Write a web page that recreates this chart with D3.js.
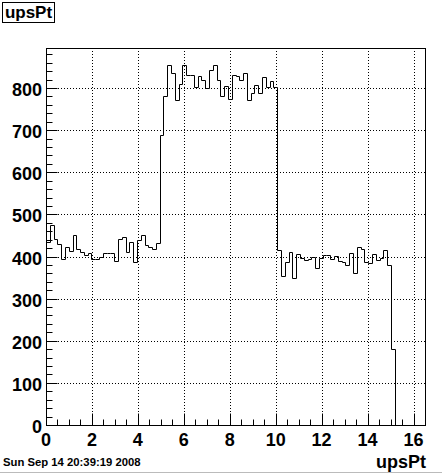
<!DOCTYPE html>
<html>
<head>
<meta charset="utf-8">
<script src="https://cdn.jsdelivr.net/npm/d3@7"></script>
<style>
body { margin: 0; background: #fff; }
svg text { font-family: "Liberation Sans", Arial, sans-serif; font-weight: bold; }
</style>
</head>
<body>
<div id="main"></div>
<script>
// histogram: 100 bins from 0 to 16.5
var xLow = 0, xHigh = 16.5;
var counts = [
	435, 474, 441, 429, 393, 423, 413, 451, 419, 411,
	404, 408, 393, 393, 400, 408, 409, 408, 390, 441,
	447, 411, 434, 388, 440, 450, 427, 423, 418, 432,
	688, 780, 854, 836, 771, 810, 854, 830, 830, 802,
	828, 820, 800, 842, 854, 820, 780, 804, 775, 832,
	828, 820, 836, 771, 787, 808, 788, 826, 802, 817,
	802, 415, 354, 386, 410, 350, 407, 396, 392, 393,
	398, 372, 396, 404, 404, 394, 401, 389, 386, 381,
	409, 360, 422, 419, 388, 384, 406, 392, 396, 416,
	380, 180, 0, 0, 0, 0, 0, 0, 0, 0
];
var xTicks = [0, 2, 4, 6, 8, 10, 12, 14, 16];
var yTicks = [0, 100, 200, 300, 400, 500, 600, 700, 800];
var yMax = 895;
var histTitle = "upsPt";
var dateText = "Sun Sep 14 20:39:19 2008";

//Width and height
var w = 442,
	h = 473;

var padL = 46, padR = 425, padT = 48, padB = 425;

var x = d3.scaleLinear().domain([xLow, xHigh]).range([padL, padR]);
var y = d3.scaleLinear().domain([0, yMax]).range([padB, padT]);

var svg = d3.select("#main")
	.append("svg")
	.attr("width", w)
	.attr("height", h);

svg.append("rect").attr("width", w).attr("height", h).attr("fill", "#fff");

// grid
svg.append("g").selectAll("line")
	.data(xTicks.filter(function(d) { return d > 0; }))
	.enter().append("line")
	.attr("x1", function(d) { return Math.round(x(d)) + 0.5; })
	.attr("x2", function(d) { return Math.round(x(d)) + 0.5; })
	.attr("y1", padT).attr("y2", padB)
	.attr("stroke", "#000").attr("stroke-width", 1)
	.attr("stroke-dasharray", "1,2");

svg.append("g").selectAll("line")
	.data(yTicks.filter(function(d) { return d > 0; }))
	.enter().append("line")
	.attr("x1", padL).attr("x2", padR)
	.attr("y1", function(d) { return Math.round(y(d)) + 0.5; })
	.attr("y2", function(d) { return Math.round(y(d)) + 0.5; })
	.attr("stroke", "#000").attr("stroke-width", 1)
	.attr("stroke-dasharray", "1,2");

// histogram outline
var binW = (xHigh - xLow) / counts.length;
var pts = [];
counts.forEach(function(c, i) {
	pts.push([x(xLow + i * binW), y(c)]);
	pts.push([x(xLow + (i + 1) * binW), y(c)]);
});
svg.append("path")
	.attr("d", d3.line()(pts.map(function(p) { return [Math.round(p[0]) + 0.5, Math.round(p[1]) + 0.5]; })))
	.attr("fill", "none")
	.attr("stroke", "#000")
	.attr("stroke-width", 1);

// frame
svg.append("rect")
	.attr("x", padL + 0.5).attr("y", padT + 0.5)
	.attr("width", padR - padL).attr("height", padB - padT)
	.attr("fill", "none").attr("stroke", "#000");

// axes, ticks inside
var xAxis = d3.axisTop(x)
	.tickValues(d3.range(0, 16.51, 0.5))
	.tickSize(0)
	.tickFormat("");
var xAx = svg.append("g").attr("transform", "translate(0," + (padB + 0.5) + ")").call(xAxis);
xAx.select(".domain").remove();
xAx.selectAll(".tick").attr("transform", function(d) { return "translate(" + (Math.round(x(d)) + 0.5) + ",0)"; });
xAx.selectAll(".tick line")
	.attr("y2", function(d) { return d % 2 === 0 ? -12 : -6; })
	.attr("stroke", "#000");

var yAxis = d3.axisRight(y)
	.tickValues(d3.range(0, 890, 20))
	.tickSize(0)
	.tickFormat("");
var yAx = svg.append("g").attr("transform", "translate(" + (padL + 0.5) + ",0)").call(yAxis);
yAx.select(".domain").remove();
yAx.selectAll(".tick").attr("transform", function(d) { return "translate(0," + (Math.round(y(d)) + 0.5) + ")"; });
yAx.selectAll(".tick line")
	.attr("x2", function(d) { return d % 100 === 0 ? 11 : 6; })
	.attr("stroke", "#000");

// tick labels
svg.append("g").selectAll("text")
	.data(xTicks)
	.enter().append("text")
	.attr("x", function(d) { return x(d); })
	.attr("y", 446)
	.attr("text-anchor", "middle")
	.attr("font-size", 18)
	.text(function(d) { return d; });

svg.append("g").selectAll("text")
	.data(yTicks)
	.enter().append("text")
	.attr("x", 42)
	.attr("y", function(d) { return y(d) + 8; })
	.attr("text-anchor", "end")
	.attr("font-size", 18)
	.text(function(d) { return d; });

// title box
svg.append("rect")
	.attr("x", 2.5).attr("y", 2.5).attr("width", 52).attr("height", 20)
	.attr("fill", "#fff").attr("stroke", "#000");
svg.append("text")
	.attr("x", 28.5).attr("y", 18)
	.attr("text-anchor", "middle")
	.attr("font-size", 17)
	.text(histTitle);

// axis title
svg.append("text")
	.attr("x", 426).attr("y", 468)
	.attr("text-anchor", "end")
	.attr("font-size", 18)
	.text(histTitle);

// date
svg.append("text")
	.attr("x", 3).attr("y", 466)
	.attr("font-size", 11.3)
	.text(dateText);

svg.append("line")
	.attr("x1", 0).attr("x2", w).attr("y1", 472.5).attr("y2", 472.5)
	.attr("stroke", "#bbb");
</script>
</body>
</html>
